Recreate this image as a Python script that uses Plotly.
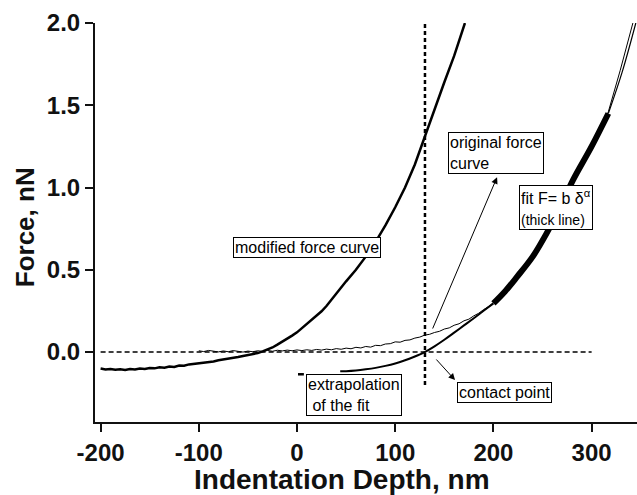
import plotly.graph_objects as go

# ---------------- data ----------------
mod_x = [-200, -195, -190, -185, -180, -175, -170, -165, -160, -155, -150, -145, -140, -135,
         -130, -125, -120, -115, -110, -105, -100, -95, -90, -85, -80, -75, -70, -65, -60, -55,
         -50, -45, -40, -35, -30, -25, -20, -15, -10, -5, 0, 5, 10, 15, 20, 25, 30, 35, 40, 45,
         50, 60, 70, 80, 90, 100, 110, 120, 130, 140, 150, 160, 171]
mod_y = [-0.100, -0.106, -0.103, -0.108, -0.104, -0.109, -0.103, -0.106, -0.100, -0.103,
         -0.097, -0.099, -0.093, -0.095, -0.088, -0.090, -0.082, -0.083, -0.075, -0.072,
         -0.070, -0.066, -0.060, -0.057, -0.050, -0.046, -0.040, -0.036, -0.030, -0.024,
         -0.018, -0.013, -0.006, 0.004, 0.016, 0.028, 0.045, 0.062, 0.080, 0.100,
         0.120, 0.146, 0.170, 0.196, 0.220, 0.248, 0.280, 0.318, 0.360, 0.395,
         0.430, 0.500, 0.580, 0.670, 0.770, 0.880, 1.000, 1.140, 1.310, 1.470, 1.640, 1.800, 2.000]

orig_x = [-100, -95, -90, -85, -80, -75, -70, -65, -60, -55, -50, -45, -40, -35, -30, -25,
          -20, -15, -10, -5, 0, 5, 10, 15, 20, 25, 30, 35, 40, 45, 50, 55, 60, 65, 70, 75,
          80, 85, 90, 95, 100, 105, 110, 115, 120, 125, 130, 135, 140, 145, 150, 155, 160,
          165, 170, 175, 180, 185, 190, 195, 200, 225, 255, 282, 317, 329, 342]
orig_y = [0.008, 0.003, 0.010, 0.005, 0.001, 0.007, 0.002, 0.009, 0.004, 0.000, 0.006, 0.002,
          0.008, 0.004, 0.010, 0.005, 0.011, 0.007, 0.012, 0.008, 0.013, 0.009, 0.014, 0.010,
          0.016, 0.012, 0.018, 0.014, 0.021, 0.017, 0.024, 0.020, 0.029, 0.025, 0.034, 0.030,
          0.041, 0.039, 0.049, 0.051, 0.062, 0.060, 0.071, 0.074, 0.085, 0.091, 0.103, 0.108,
          0.119, 0.126, 0.140, 0.147, 0.163, 0.172, 0.190, 0.200, 0.220, 0.236, 0.258, 0.276,
          0.300, 0.450, 0.730, 1.050, 1.460, 1.710, 2.000]

fit_lo_x = [44, 50, 60, 70, 80, 90, 100, 110, 120, 130, 140, 150, 160, 170, 180, 190, 200]
fit_lo_y = [-0.117, -0.116, -0.112, -0.105, -0.096, -0.084, -0.069, -0.050, -0.027, 0.000,
            0.035, 0.075, 0.118, 0.162, 0.206, 0.251, 0.296]
fit_thick_x = [200, 212, 224, 240, 254, 268, 281, 300, 317]
fit_thick_y = [0.296, 0.370, 0.457, 0.580, 0.720, 0.880, 1.045, 1.250, 1.450]
fit_hi_x = [317, 331, 345]
fit_hi_y = [1.450, 1.700, 2.000]

tick_x = [-200, -100, 0, 100, 200, 300]
tick_x_text = ["-200", "-100", "0", "100", "200", "300"]
tick_y = [0.0, 0.5, 1.0, 1.5, 2.0]
tick_y_text = ["0.0", "0.5", "1.0", "1.5", "2.0"]

contact_x = 130.3
zero_line_x = [-200, 300]
vline_y = [-0.20, 2.0]
mark_x = [1, 7]
mark_y = [-0.135, -0.135]

FONT = "Liberation Sans, Arial, sans-serif"

fig = go.Figure()
fig.add_trace(go.Scatter(x=zero_line_x, y=[0, 0], mode="lines",
                         line=dict(color="black", width=1.6, dash="5px,3px")))
fig.add_trace(go.Scatter(x=[contact_x, contact_x], y=vline_y, mode="lines",
                         line=dict(color="black", width=2.5, dash="4px,3px")))
fig.add_trace(go.Scatter(x=orig_x, y=orig_y, mode="lines", line=dict(color="black", width=1)))
fig.add_trace(go.Scatter(x=mod_x, y=mod_y, mode="lines", line=dict(color="black", width=2.5)))
fig.add_trace(go.Scatter(x=fit_lo_x, y=fit_lo_y, mode="lines",
                         line=dict(color="black", width=2, shape="spline")))
fig.add_trace(go.Scatter(x=fit_thick_x, y=fit_thick_y, mode="lines",
                         line=dict(color="black", width=6, shape="spline")))
fig.add_trace(go.Scatter(x=fit_hi_x, y=fit_hi_y, mode="lines",
                         line=dict(color="black", width=1.2, shape="spline")))
fig.add_trace(go.Scatter(x=mark_x, y=mark_y, mode="lines", line=dict(color="black", width=2.5)))

box = dict(bordercolor="black", borderwidth=1, borderpad=1, bgcolor="white",
           showarrow=False, xanchor="left", yanchor="top", align="left",
           font=dict(family=FONT, size=16, color="black"), xref="x", yref="y")
anns = [
    dict(x=-65.2, y=0.70, text="modified force curve", **box),
    dict(x=153.8, y=1.337, text="original force<br>curve", **box),
    dict(x=226, y=1.015, text="fit F= b δ<sup>α</sup><br><span style='font-size:14px'>(thick line)</span>", **box),
    dict(x=9.2, y=-0.134, text="extrapolation<br>&nbsp;of the fit", **box),
    dict(x=163, y=-0.182, text="contact point", **box),
]
arrow = dict(text="", showarrow=True, arrowhead=2, arrowsize=1.3, arrowwidth=1,
             arrowcolor="black", standoff=0, startstandoff=0,
             xref="x", yref="y", axref="x", ayref="y")
anns.append(dict(x=203.7, y=1.063, ax=137.5, ay=0.134, **arrow))
anns.append(dict(x=160.9, y=-0.170, ax=140.5, ay=-0.036, **arrow))

# axis titles (placed as in the reference, slightly off-centre)
anns.append(dict(x=45.8, y=-0.1429, xref="x", yref="paper", text="Indentation Depth, nm",
                 showarrow=False, xanchor="center", yanchor="middle", borderpad=0, borderwidth=0,
                 font=dict(family=FONT, size=28, color="#111", weight=700)))
anns.append(dict(x=-0.130, y=0.487, xref="paper", yref="paper", text="Force, nN", textangle=-90,
                 showarrow=False, xanchor="center", yanchor="middle",
                 font=dict(family=FONT, size=26, color="#111", weight=700)))

fig.update_layout(
    width=637, height=495, margin=dict(l=95, r=0, t=23, b=73),
    paper_bgcolor="white", plot_bgcolor="white", showlegend=False,
    annotations=anns,
    xaxis=dict(range=[-205.7, 346.2], tickvals=tick_x, ticktext=tick_x_text, ticks="outside",
               ticklen=8, tickwidth=2, tickcolor="#111", showline=True, linewidth=2,
               linecolor="#111", showgrid=False, zeroline=False,
               tickfont=dict(family=FONT, size=24, color="#111", weight=700)),
    yaxis=dict(range=[-0.425, 2.0], tickvals=tick_y, ticktext=tick_y_text, ticks="outside",
               ticklen=8, tickwidth=2, tickcolor="#111", showline=True, linewidth=2,
               linecolor="#111", showgrid=False, zeroline=False,
               tickfont=dict(family=FONT, size=24, color="#111", weight=700)),
)
fig.write_html("out.html")
